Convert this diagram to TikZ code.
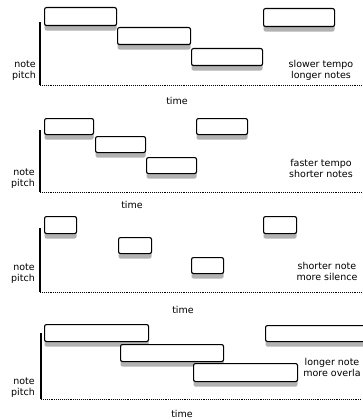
\documentclass[tikz,border=0pt]{standalone}
\usepackage{fontspec}
\setmainfont{DejaVu Sans}
\begin{document}
\begin{tikzpicture}[x=1pt,y=-1pt,
  notebox/.style={draw=black, line width=1.1pt, rounded corners=2pt, fill=white,
    inner sep=0pt, anchor=north west,
    preaction={fill=gray!60, draw=none, transform canvas={yshift=-5pt}}},
  axisv/.style={line width=1.3pt, black},
  axish/.style={line width=0.9pt, black, densely dotted},
  lab/.style={font=\fontsize{9.5}{11}\selectfont, inner sep=0pt, align=center},
  ylab/.style={font=\fontsize{9.5}{11}\selectfont, inner sep=0pt, align=right, anchor=east}]
\useasboundingbox (0,0) rectangle (362,420);
\fill[white] (0,0) rectangle (362,420);

% ---------- panel 1 ----------
\coordinate (t1) at (40,22); \coordinate (o1) at (40,85); \coordinate (e1) at (362,85);
\draw[axisv] (t1) -- (o1);
\draw[axish] (o1) -- (e1);
\node[notebox, minimum width=72pt, minimum height=18pt] (p1a) at (44,7) {};
\node[notebox, minimum width=73pt, minimum height=17pt] (p1b) at (117,27) {};
\node[notebox, minimum width=71pt, minimum height=17pt] (p1c) at (191,48) {};
\node[notebox, minimum width=71pt, minimum height=18pt] (p1d) at (263,8) {};
\node[ylab] (y1) at (36,71) {note\\pitch};
\node[lab] (r1) at (321,70) {slower tempo\\longer notes};
\node[lab] (x1) at (177,101) {time};

% ---------- panel 2 ----------
\coordinate (t2) at (40,130); \coordinate (o2) at (40,192); \coordinate (e2) at (362,192);
\draw[axisv] (t2) -- (o2);
\draw[axish] (o2) -- (e2);
\node[notebox, minimum width=49pt, minimum height=16pt] (p2a) at (44,118) {};
\node[notebox, minimum width=50pt, minimum height=16pt] (p2b) at (95,136) {};
\node[notebox, minimum width=50pt, minimum height=16pt] (p2c) at (146,157) {};
\node[notebox, minimum width=51pt, minimum height=16pt] (p2d) at (196,118) {};
\node[ylab] (y2) at (35,179) {note\\pitch};
\node[lab] (r2) at (321,168) {faster tempo\\shorter notes};
\node[lab] (x2) at (132,205) {time};

% ---------- panel 3 ----------
\coordinate (t3) at (40,228); \coordinate (o3) at (40,292); \coordinate (e3) at (362,292);
\draw[axisv] (t3) -- (o3);
\draw[axish] (o3) -- (e3);
\node[notebox, minimum width=32pt, minimum height=17pt] (p3a) at (44,216) {};
\node[notebox, minimum width=33pt, minimum height=16pt] (p3b) at (118,237) {};
\node[notebox, minimum width=32pt, minimum height=16pt] (p3c) at (191,257) {};
\node[notebox, minimum width=33pt, minimum height=17pt] (p3d) at (263,216) {};
\node[ylab] (y3) at (35,274) {note\\pitch};
\node[lab] (r3) at (327,271) {shorter note\\more silence};
\node[lab] (x3) at (183,310) {time};

% ---------- panel 4 ----------
\coordinate (t4) at (41,333); \coordinate (o4) at (41,399); \coordinate (e4) at (362,399);
\draw[axisv] (t4) -- (o4);
\draw[axish] (o4) -- (e4);
\node[notebox, minimum width=104pt, minimum height=17pt] (p4a) at (44,324) {};
\node[notebox, minimum width=103pt, minimum height=17pt] (p4b) at (120,344) {};
\node[notebox, minimum width=104pt, minimum height=18pt] (p4c) at (193,363) {};
\node[notebox, minimum width=105pt, minimum height=16pt] (p4d) at (265,325) {};
\node[ylab] (y4) at (35,388) {note\\pitch};
\node[lab] (r4) at (332,367) {longer note\\more overla};
\node[lab] (x4) at (182,414) {time};
\end{tikzpicture}
\end{document}
